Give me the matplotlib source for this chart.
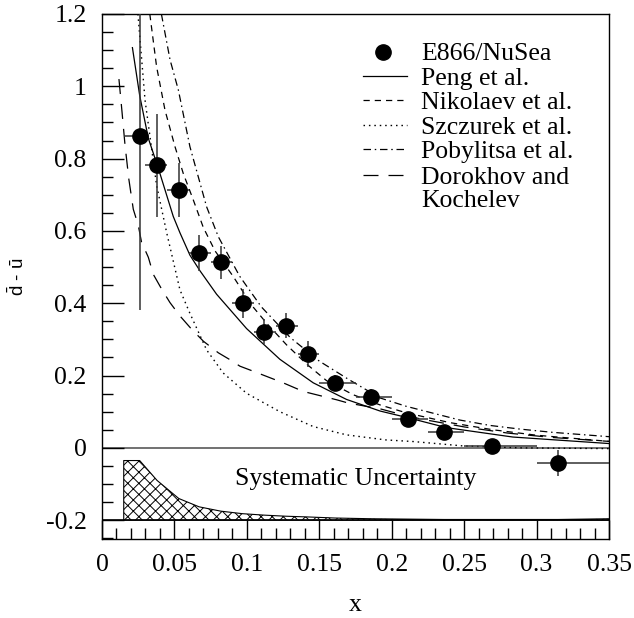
import numpy as np
import matplotlib
matplotlib.use('Agg')
import matplotlib.pyplot as plt
from matplotlib.ticker import MultipleLocator, FuncFormatter

plt.rcParams['font.family'] = ['Liberation Serif', 'DejaVu Serif']
plt.rcParams['hatch.linewidth'] = 0.7
plt.rcParams['mathtext.fontset'] = 'custom'
plt.rcParams['mathtext.rm'] = 'Liberation Sans'

# E866/NuSea points, x bins and errors
data_x = [0.026, 0.038, 0.053, 0.067, 0.082, 0.097, 0.112, 0.127, 0.142, 0.161, 0.186, 0.211, 0.236, 0.269, 0.315]
data_y = [0.862, 0.781, 0.714, 0.539, 0.513, 0.400, 0.321, 0.338, 0.260, 0.179, 0.142, 0.081, 0.044, 0.005, -0.042]
data_err = [0.48, 0.143, 0.075, 0.05, 0.045, 0.04, 0.035, 0.035, 0.035, 0.022, 0.02, 0.015, 0.015, 0.015, 0.035]
bin_lo = [0.015, 0.030, 0.045, 0.060, 0.075, 0.090, 0.105, 0.120, 0.135, 0.150, 0.175, 0.200, 0.225, 0.250, 0.300]
bin_hi = [0.030, 0.045, 0.060, 0.075, 0.090, 0.105, 0.120, 0.135, 0.150, 0.175, 0.200, 0.225, 0.250, 0.300, 0.350]

# model curves
peng_x = [0.021, 0.026, 0.032, 0.0389, 0.0492, 0.0538, 0.0607, 0.0676, 0.0791, 0.0998, 0.1228, 0.1458,
          0.1688, 0.1919, 0.2126, 0.2378, 0.2836, 0.35]
peng_y = [1.107, 0.975, 0.856, 0.773, 0.64, 0.595, 0.533, 0.49, 0.425, 0.33, 0.245, 0.18,
          0.134, 0.102, 0.082, 0.056, 0.03, 0.012]

nik_x = [0.033, 0.0377, 0.0435, 0.0504, 0.0561, 0.063, 0.0699, 0.078, 0.0906, 0.1032, 0.1136, 0.1274,
         0.1412, 0.155, 0.1734, 0.1918, 0.21, 0.24, 0.27, 0.30, 0.35]
nik_y = [1.2, 1.054, 0.934, 0.833, 0.759, 0.686, 0.61, 0.545, 0.474, 0.395, 0.345, 0.285,
         0.232, 0.186, 0.147, 0.119, 0.097, 0.07, 0.05, 0.035, 0.018]

szc_x = [0.0248, 0.0297, 0.0377, 0.0446, 0.0538, 0.0607, 0.0722, 0.0837, 0.0998, 0.1228, 0.1458,
         0.1688, 0.196, 0.215, 0.249, 0.29, 0.35]
szc_y = [1.2, 0.962, 0.726, 0.596, 0.437, 0.372, 0.271, 0.207, 0.151, 0.100, 0.059,
         0.036, 0.022, 0.0175, 0.0055, 0.0, -0.002]

pob_x = [0.041, 0.047, 0.0527, 0.0607, 0.0722, 0.0803, 0.095, 0.11, 0.13, 0.15, 0.17, 0.192,
         0.21, 0.247, 0.268, 0.2885, 0.311, 0.35]
pob_y = [1.2, 1.073, 0.99, 0.833, 0.667, 0.584, 0.475, 0.39, 0.305, 0.24, 0.19, 0.138,
         0.115, 0.077, 0.062, 0.052, 0.043, 0.031]

dor_x = [0.0117, 0.0138, 0.0159, 0.0185, 0.0216, 0.025, 0.0273, 0.032, 0.0354, 0.0412, 0.0469, 0.0538,
         0.0619, 0.07, 0.0803, 0.0883, 0.0952, 0.1044, 0.116, 0.125, 0.139, 0.148, 0.162, 0.170,
         0.192, 0.2033, 0.22, 0.25, 0.28, 0.31, 0.35]
dor_y = [1.02, 0.93, 0.837, 0.744, 0.66, 0.616, 0.569, 0.527, 0.48, 0.439, 0.402, 0.365,
         0.328, 0.295, 0.263, 0.244, 0.226, 0.212, 0.194, 0.18, 0.156, 0.147, 0.133, 0.124,
         0.108, 0.096, 0.08, 0.058, 0.041, 0.029, 0.018]

# systematic uncertainty band (drawn above -0.2)
sys_x = [0.015, 0.026, 0.038, 0.053, 0.067, 0.082, 0.097, 0.112, 0.127, 0.142, 0.161, 0.186,
         0.211, 0.236, 0.269, 0.315, 0.35]
sys_y = [-0.035, -0.035, -0.09, -0.14, -0.163, -0.175, -0.182, -0.186, -0.189, -0.191, -0.194, -0.196,
         -0.197, -0.198, -0.198, -0.198, -0.196]
sys_base = -0.2

x_ticks = [0, 0.05, 0.1, 0.15, 0.2, 0.25, 0.3, 0.35]
y_ticks = [-0.2, 0, 0.2, 0.4, 0.6, 0.8, 1.0, 1.2]

labels = ["E866/NuSea", "Peng et al.", "Nikolaev et al.", "Szczurek et al.",
          "Pobylitsa et al.", "Dorokhov and", "Kochelev"]

FS = 18.5

fig = plt.figure(figsize=(6.34, 6.18), dpi=100)
ax = fig.add_axes([102 / 634, 1 - 539 / 618, 507 / 634, 525 / 618])

styles = {
    'peng': dict(color='black', lw=0.9, ls='-'),
    'nik': dict(color='black', lw=0.9, ls=(0, (5, 4))),
    'szc': dict(color='black', lw=1.0, ls=(0, (1.1, 2.8))),
    'pob': dict(color='black', lw=0.9, ls=(0, (6, 3, 1.2, 3))),
    'dor': dict(color='black', lw=0.9, ls=(0, (12, 8))),
}

ax.plot(peng_x, peng_y, **styles['peng'])
ax.plot(nik_x, nik_y, **styles['nik'])
ax.plot(szc_x, szc_y, **styles['szc'])
ax.plot(pob_x, pob_y, **styles['pob'])
ax.plot(dor_x, dor_y, **styles['dor'])

ax.axhline(0, color='0.35', lw=1.2, zorder=1)
ax.axhline(sys_base, color='black', lw=1.2, zorder=3)

ax.fill_between(sys_x, sys_base, sys_y, facecolor='white', edgecolor='black',
                hatch='xxx', lw=0.8, zorder=2)
ax.text(0.175, -0.102, "Systematic Uncertainty", ha='center', va='baseline', fontsize=FS)

dx = np.array(data_x)
xerr = [dx - np.array(bin_lo), np.array(bin_hi) - dx]
ax.errorbar(data_x, data_y, yerr=data_err, xerr=xerr, fmt='none', ecolor='0.2',
            elinewidth=1.1, capsize=0, zorder=4)
ax.plot(data_x, data_y, 'o', color='black', ms=11, zorder=5)

ax.set_xlim(0, 0.35)
ax.set_ylim(-0.252, 1.2)
ax.set_xticks(x_ticks)
ax.set_yticks(y_ticks)
ax.xaxis.set_minor_locator(MultipleLocator(0.01))
ax.yaxis.set_minor_locator(MultipleLocator(0.05))
fmt = FuncFormatter(lambda v, p: ('%g' % round(v, 3)).replace('\u2212', '-'))
ax.xaxis.set_major_formatter(fmt)
ax.yaxis.set_major_formatter(fmt)
ax.tick_params(which='both', direction='in', top=False, right=False, width=1.0, labelsize=FS)
ax.tick_params(axis='y', which='major', length=16, pad=11)
ax.tick_params(axis='y', which='minor', length=8)
ax.tick_params(axis='x', which='major', length=13.7, pad=11)
ax.tick_params(axis='x', which='minor', length=8)
for s in ax.spines.values():
    s.set_linewidth(1.0)

ax.set_xlabel("x", fontsize=FS, va='baseline')
ax.xaxis.set_label_coords(0.5, (539 - 611) / 525)
ax.set_ylabel(r"$\bar{\mathrm{d}}$ - $\bar{\mathrm{u}}$", fontsize=13.5,
              family=['Liberation Sans', 'DejaVu Sans'], va='center', ha='center')
ax.yaxis.set_label_coords((18 - 102) / 507, 0.5)

# legend drawn by hand
rows = [51.7, 76, 100, 125, 149, 175, 198]
hx0, hx1 = (363 - 102) / 507, (407 - 102) / 507
tx = (421 - 102) / 507
row_y = [(539 - r) / 525 for r in rows]
base_y = [(539 - (r + 8.6)) / 525 for r in rows]
ax.plot([(383 - 102) / 507], [row_y[0]], 'o', color='black', ms=11, transform=ax.transAxes, clip_on=False)
for key, ry in zip(['peng', 'nik', 'szc', 'pob', 'dor'], row_y[1:6]):
    ax.plot([hx0, hx1], [ry, ry], transform=ax.transAxes, **styles[key])
for lab, by in zip(labels, base_y):
    ax.text(tx, by, lab, transform=ax.transAxes, fontsize=FS, va='baseline', ha='left')

fig.savefig("out.png", dpi=100)
